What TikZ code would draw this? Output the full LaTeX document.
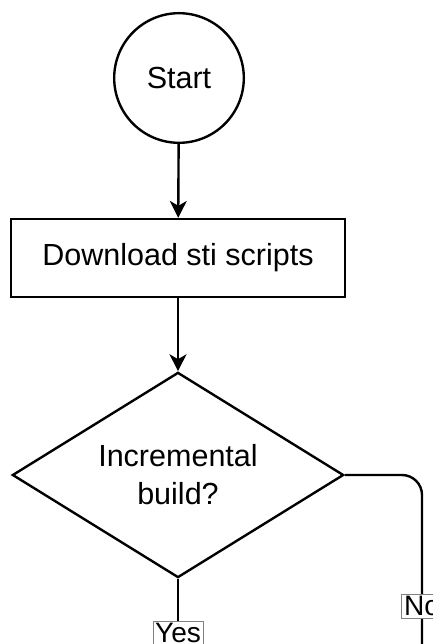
\documentclass[tikz,border=0pt]{standalone}
\usepackage{fontspec}
\setmainfont{Liberation Sans}
\usetikzlibrary{shapes.geometric}
\usetikzlibrary{arrows.meta}

\begin{document}
\begin{tikzpicture}[x=0.025cm,y=-0.025cm,line width=1.7pt,
  txt/.style={font=\fontsize{21.7pt}{27pt}\selectfont},
  flowstep/.style={draw,txt,inner sep=0pt},
  flowarrow/.style={-{Stealth[length=0.42cm,width=0.42cm,inset=0.12cm]}},
  choice/.style={draw=gray,line width=0.6pt,fill=white,inner sep=1.5pt,
    font=\fontsize{20pt}{24pt}\selectfont}]
\useasboundingbox (0,0) rectangle (433,644);
\clip (0,0) rectangle (433,644);
\node[flowstep,circle,minimum size=3.24cm] (start) at (179,78) {Start};
\node[flowstep,rectangle,minimum width=8.35cm,minimum height=1.95cm] (download) at (178,258) {Download sti scripts};
\node[flowstep,diamond,aspect=1.6,minimum width=8.28cm,minimum height=5.13cm,align=center] (incremental) at (178,475) {Incremental\\build?};
\coordinate (yesend) at (178,720);
\coordinate (noend) at (422,720);
\draw[flowarrow] (start) -- (download);
\draw[flowarrow] (download) -- (incremental);
\draw (incremental.south) -- (yesend);
\draw[rounded corners=0.5cm] (incremental.east) -| (noend);
\node[choice] (yes) at (178,633) {Yes};
\node[choice] (no) at (422,606) {No};
\end{tikzpicture}
\end{document}
